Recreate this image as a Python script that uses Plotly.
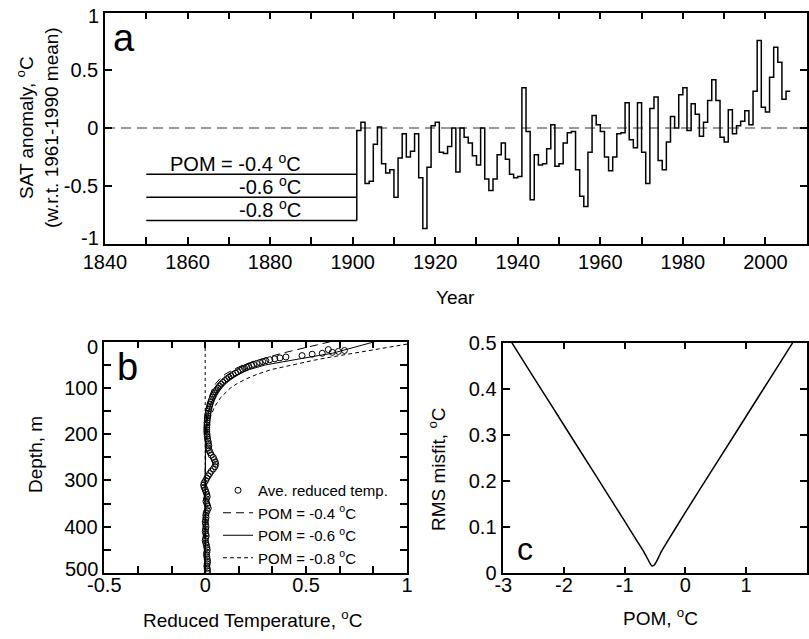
import plotly.graph_objects as go

FONT = "Liberation Sans, Arial, Helvetica, sans-serif"
W, H = 809, 639

# ---------------- Panel a: SAT anomaly ----------------
years = list(range(1901, 2006))
sat_anomaly = [
    -0.02, 0.05, -0.48, -0.46, -0.14, 0.01, -0.31, -0.39, -0.36, -0.60,   # 1901-1910
    -0.26, -0.05, -0.25, -0.20, -0.05, -0.43, -0.87, -0.34, 0.02, 0.05,   # 1911-1920
    -0.21, -0.22, -0.16, 0.00, -0.38, 0.00, -0.08, -0.13, -0.24, -0.32,   # 1921-1930
    0.00, -0.44, -0.54, -0.44, -0.23, -0.13, -0.27, -0.40, -0.43, -0.42,  # 1931-1940
    0.35, -0.03, -0.62, -0.23, -0.32, -0.31, -0.18, 0.03, -0.33, -0.31,   # 1941-1950
    -0.13, -0.04, -0.03, -0.36, -0.59, -0.68, -0.21, 0.11, 0.03, -0.03,   # 1951-1960
    -0.25, -0.37, -0.25, -0.05, -0.04, 0.22, -0.10, -0.17, 0.22, -0.21,   # 1961-1970
    -0.48, 0.17, 0.27, -0.28, -0.36, -0.12, 0.10, 0.00, 0.29, 0.35,       # 1971-1980
    -0.02, 0.21, 0.12, -0.07, 0.05, 0.24, 0.42, 0.24, -0.08, -0.12,       # 1981-1990
    0.16, -0.05, 0.02, 0.06, 0.15, 0.03, 0.32, 0.76, 0.18, 0.14,          # 1991-2000
    0.44, 0.70, 0.57, 0.25, 0.32,                                         # 2001-2005
]
pom_levels = [-0.4, -0.6, -0.8]
pom_labels = ["POM = -0.4 <sup>o</sup>C", "-0.6 <sup>o</sup>C", "-0.8 <sup>o</sup>C"]
pom_start_year = 1850
a_xticks = list(range(1840, 2001, 20))
a_xticklabels = [str(v) for v in a_xticks]
a_xminor = list(range(1850, 2011, 20))
a_yticks = [-0.5, 0, 0.5]
a_yticklabels = ["-0.5", "0", "0.5"]
a_yend_labels = [(-1, "-1", 6), (1, "1", -3)]      # end labels nudged inward

# ---------------- Panel b: reduced temperature profiles ----------------
obs_depth = [17, 19, 21, 23, 25, 27, 30, 33, 35, 37, 39, 41, 43, 45, 47, 49, 51, 53, 55, 57,
             59, 62, 65, 68, 71, 74, 77, 80, 84, 88, 92, 96, 100, 104, 108, 112, 116, 120, 125, 130,
             135, 140, 145, 150, 155, 160, 165, 170, 175, 180, 185, 190, 195, 200, 205, 210, 215, 220, 225, 230,
             235, 240, 245, 250, 255, 260, 265, 270, 275, 280, 285, 290, 295, 300, 305, 310, 315, 320, 325, 330,
             335, 340, 345, 350, 355, 360, 365, 370, 375, 380, 385, 390, 395, 400, 405, 410, 415, 420, 425, 430,
             435, 440, 445, 450, 455, 460, 465, 470, 475, 480, 485, 490, 495, 500]
obs_temp = [0.61, 0.69, 0.66, 0.63, 0.58, 0.53, 0.48, 0.40, 0.37, 0.345, 0.32, 0.30, 0.285, 0.27, 0.255, 0.24, 0.23, 0.215, 0.205, 0.195,
            0.185, 0.175, 0.162, 0.15, 0.138, 0.128, 0.118, 0.108, 0.098, 0.088, 0.079, 0.071, 0.064, 0.057, 0.051, 0.046, 0.041, 0.037, 0.032, 0.028,
            0.024, 0.021, 0.018, 0.016, 0.014, 0.012, 0.011, 0.010, 0.009, 0.009, 0.008, 0.008, 0.008, 0.009, 0.010, 0.012, 0.014, 0.016, 0.018, 0.015,
            0.020, 0.025, 0.030, 0.040, 0.045, 0.050, 0.052, 0.048, 0.040, 0.030, 0.022, 0.015, 0.008, 0.002, -0.005, -0.008, -0.005, 0.000, 0.004, 0.008,
            0.010, 0.006, 0.004, 0.008, 0.012, 0.015, 0.010, 0.005, 0.003, 0.004, 0.002, 0.000, 0.002, 0.004, 0.002, 0.000, 0.003, 0.005, 0.002, 0.000,
            0.003, 0.006, 0.008, 0.010, 0.008, 0.006, 0.008, 0.010, 0.012, 0.010, 0.008, 0.010, 0.012, 0.010]
model_depth = [0, 5, 10, 15, 20, 25, 30, 35, 40, 50, 60, 70, 80, 90, 100, 120, 140, 160, 180, 200, 250, 300, 400, 500]
model_pom_04 = [0.62, 0.57, 0.52, 0.47, 0.42, 0.38, 0.34, 0.30, 0.26, 0.19, 0.14, 0.10, 0.073, 0.053, 0.038, 0.02, 0.011, 0.006, 0.003, 0.001, 0, 0, 0, 0]
model_pom_06 = [0.84, 0.80, 0.76, 0.72, 0.68, 0.63, 0.56, 0.49, 0.42, 0.30, 0.22, 0.165, 0.125, 0.095, 0.072, 0.042, 0.024, 0.013, 0.007, 0.004, 0.001, 0, 0, 0]
model_pom_08 = [1.07, 1.00, 0.93, 0.86, 0.80, 0.74, 0.67, 0.60, 0.54, 0.43, 0.33, 0.26, 0.205, 0.16, 0.125, 0.078, 0.047, 0.028, 0.017, 0.01, 0.002, 0, 0, 0]
b_xticks = [-0.5, 0, 0.5, 1]
b_xticklabels = ["-0.5", "0", "0.5", "1"]
b_xminor = [round(-0.5 + i / 6, 6) for i in range(10) if i % 3 != 0]
b_yticks = [100, 200, 300, 400]
b_yticklabels = ["100", "200", "300", "400"]
b_yminor = [0, 50, 150, 250, 350, 450, 500]
b_yend_labels = [(0, "0", -5), (500, "500", 4)]

# ---------------- Panel c: RMS misfit ----------------
pom_grid = [-2.86, -2.5, -2.0, -1.5, -1.0, -0.8, -0.7, -0.62, -0.58, -0.55, -0.51, -0.47, -0.4, -0.3, 0.0, 0.5, 1.0, 1.5, 1.77]
rms_misfit = [0.50, 0.425, 0.321, 0.217, 0.113, 0.071, 0.05, 0.031, 0.021, 0.016, 0.018, 0.027, 0.046, 0.068, 0.132, 0.236, 0.340, 0.444, 0.50]
c_xticks = [-3, -2, -1, 0, 1, 2]
c_xticklabels = ["-3", "-2", "-1", "0", "1", "2"]
c_yticks = [0, 0.1, 0.2, 0.3, 0.4, 0.5]
c_yticklabels = ["0", "0.1", "0.2", "0.3", "0.4", "0.5"]


def px_x(v):
    return v / W


def px_y(v):
    return 1 - v / H


fig = go.Figure()

# Panel a traces
step_x = [years[0]] + years + [years[-1] + 1]
step_y = [min(pom_levels)] + sat_anomaly + [sat_anomaly[-1]]
fig.add_trace(go.Scatter(x=step_x, y=step_y, mode="lines", line=dict(color="black", width=1.5, shape="hv"),
                         xaxis="x", yaxis="y", showlegend=False, hoverinfo="skip"))
for lev in pom_levels:
    fig.add_trace(go.Scatter(x=[pom_start_year, years[0]], y=[lev, lev], mode="lines",
                             line=dict(color="black", width=1.5), xaxis="x", yaxis="y",
                             showlegend=False, hoverinfo="skip"))

# Panel b traces
fig.add_trace(go.Scatter(x=obs_temp, y=obs_depth, mode="markers", name="Ave. reduced temp.",
                         marker=dict(symbol="circle-open", size=6, color="black", line=dict(width=1)),
                         xaxis="x2", yaxis="y2"))
fig.add_trace(go.Scatter(x=model_pom_04, y=model_depth, mode="lines", name="POM = -0.4 <sup>o</sup>C",
                         line=dict(color="black", width=1, dash="8px,5px"), xaxis="x2", yaxis="y2"))
fig.add_trace(go.Scatter(x=model_pom_06, y=model_depth, mode="lines", name="POM = -0.6 <sup>o</sup>C",
                         line=dict(color="black", width=1), xaxis="x2", yaxis="y2"))
fig.add_trace(go.Scatter(x=model_pom_08, y=model_depth, mode="lines", name="POM = -0.8 <sup>o</sup>C",
                         line=dict(color="black", width=1, dash="4px,3px"), xaxis="x2", yaxis="y2"))

# Panel c trace
fig.add_trace(go.Scatter(x=pom_grid, y=rms_misfit, mode="lines",
                         line=dict(color="black", width=1.5, shape="spline", smoothing=0.5),
                         xaxis="x3", yaxis="y3", showlegend=False, hoverinfo="skip"))


def axis(domain, rng, tickvals, ticktext, anchor, standoff, minor_vals=None):
    d = dict(domain=domain, range=rng, tickvals=tickvals, ticktext=ticktext, anchor=anchor,
             showline=True, linecolor="black", linewidth=1.5, mirror="ticks",
             ticks="inside", ticklen=7, tickwidth=1.5, tickcolor="black",
             showgrid=False, zeroline=False, ticklabelstandoff=standoff, automargin=False,
             tickfont=dict(family=FONT, size=20, color="black"))
    if minor_vals:
        d["minor"] = dict(tickvals=minor_vals, ticks="inside", ticklen=7, tickwidth=1.5,
                          tickcolor="black", showgrid=False)
    return d


fig.update_layout(
    width=W, height=H,
    margin=dict(l=0, r=0, t=0, b=0, autoexpand=False),
    paper_bgcolor="white", plot_bgcolor="white",
    font=dict(family=FONT, size=19, color="black"),
    xaxis=axis([px_x(105), px_x(806.7)], [1840, 2010], a_xticks, a_xticklabels, "y", 0, a_xminor),
    yaxis=axis([px_y(243.5), px_y(12.7)], [-1, 1], a_yticks, a_yticklabels, "x", 1),
    xaxis2=axis([px_x(104.3), px_x(407)], [-0.5, 1], b_xticks, b_xticklabels, "y2", -7, b_xminor),
    yaxis2=axis([px_y(573), px_y(341.7)], [500, 0], b_yticks, b_yticklabels, "x2", 1, b_yminor),
    xaxis3=axis([px_x(503.3), px_x(806.7)], [-3, 2], c_xticks, c_xticklabels, "y3", -7),
    yaxis3=axis([px_y(573.3), px_y(342.7)], [0, 0.5], c_yticks, c_yticklabels, "x3", 1),
    showlegend=True,
    legend=dict(x=px_x(218), y=px_y(474), xanchor="left", yanchor="top", bgcolor="rgba(0,0,0,0)",
                font=dict(family=FONT, size=15, color="black"), tracegroupgap=0, itemwidth=30),
)

# zero line (panel a) and x = 0 line (panel b)
fig.add_shape(type="line", xref="x domain", yref="y", x0=0, x1=1, y0=0, y1=0,
              line=dict(color="#777777", width=1.5, dash="10px,6px"), layer="below")
fig.add_shape(type="line", xref="x2", yref="y2 domain", x0=0, x1=0, y0=0, y1=1,
              line=dict(color="black", width=1, dash="3px,3px"), layer="below")

ann = []
for lev, lab in zip(pom_levels, pom_labels):
    ann.append(dict(x=1888, y=lev, xref="x", yref="y", text=lab, showarrow=False,
                    xanchor="right", yanchor="bottom", yshift=-3, font=dict(size=20)))

for val, txt, shift in a_yend_labels:
    ann.append(dict(x=0, y=val, xref="x domain", yref="y", text=txt, showarrow=False,
                    xanchor="right", yanchor="middle", xshift=-4, yshift=shift,
                    font=dict(family=FONT, size=20, color="black")))
for val, txt, shift in b_yend_labels:
    ann.append(dict(x=0, y=val, xref="x2 domain", yref="y2", text=txt, showarrow=False,
                    xanchor="right", yanchor="middle", xshift=-4, yshift=shift,
                    font=dict(family=FONT, size=20, color="black")))

labels = [
    dict(x=px_x(124), y=px_y(38), text="a", font=dict(size=38)),
    dict(x=px_x(128), y=px_y(367), text="b", font=dict(size=38)),
    dict(x=px_x(525), y=px_y(549), text="c", font=dict(size=32)),
    dict(x=px_x(455), y=px_y(297), text="Year", font=dict(size=19)),
    dict(x=px_x(37), y=px_y(128), text="SAT anomaly, <sup>o</sup>C<br>(w.r.t. 1961-1990 mean)", textangle=-90, font=dict(size=19)),
    dict(x=px_x(36), y=px_y(455), text="Depth, m", textangle=-90, font=dict(size=19)),
    dict(x=px_x(252), y=px_y(619), text="Reduced Temperature, <sup>o</sup>C", font=dict(size=19)),
    dict(x=px_x(437), y=px_y(469), text="RMS misfit, <sup>o</sup>C", textangle=-90, font=dict(size=19)),
    dict(x=px_x(660), y=px_y(617), text="POM, <sup>o</sup>C", font=dict(size=19)),
]
for a in labels:
    a.update(xref="paper", yref="paper", showarrow=False, xanchor="center", yanchor="middle")
fig.update_layout(annotations=ann + labels)

fig.write_html("out.html", config={"displayModeBar": False},
               post_script="document.body.style.margin='0px';")
